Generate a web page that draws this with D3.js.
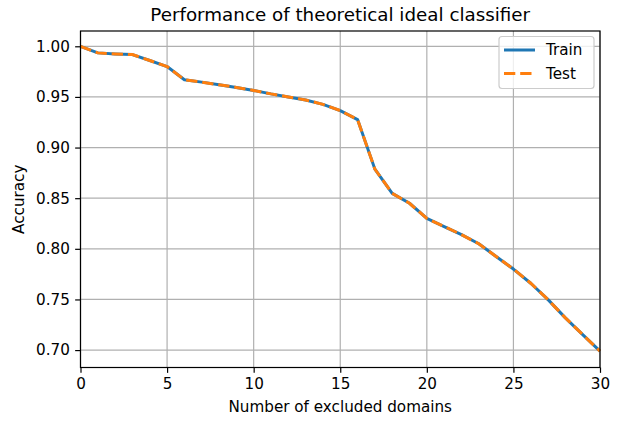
<!DOCTYPE html>
<html><head><meta charset="utf-8">
<script src="https://cdn.jsdelivr.net/npm/d3@7"></script>
<style>body{margin:0;background:#fff;} text{font-family:"DejaVu Sans",sans-serif;}</style>
</head><body>
<svg id="c" width="619" height="421"></svg>
<script>
const domains = d3.range(0, 31);
const trainAcc = [1.000,0.9935,0.9925,0.9918,0.986,0.980,0.967,0.9646,0.962,0.9594,0.9564,0.953,0.950,0.947,0.9426,0.9365,0.9276,0.8787,0.8547,0.845,0.830,0.822,0.8140,0.8050,0.7924,0.780,0.766,0.7498,0.7318,0.7153,0.699];
const testAcc  = [1.000,0.9935,0.9925,0.9918,0.986,0.980,0.967,0.9646,0.962,0.9594,0.9564,0.953,0.950,0.947,0.9426,0.9365,0.9276,0.8787,0.8547,0.845,0.830,0.822,0.8140,0.8050,0.7924,0.780,0.766,0.7498,0.7318,0.7153,0.699];
const xTicks = [0,5,10,15,20,25,30];
const yTicks = [0.70,0.75,0.80,0.85,0.90,0.95,1.00];
const seriesNames = ["Train","Test"];
const colors = ["#1f77b4","#ff7f0e"];

const L=80.5, R=600, T=31, B=367.5;
const FS=15.2, TK=5.35, LW=1.2;
const svg = d3.select("#c");
const x = d3.scaleLinear().domain([0,30]).range([L,R]);
const y = d3.scaleLinear().domain([0.6828,1.0151]).range([B,T]);

// grid
const g = svg.append("g");
g.selectAll(".gx").data(xTicks).join("line").attr("x1",d=>x(d)).attr("x2",d=>x(d)).attr("y1",T).attr("y2",B).attr("stroke","#b0b0b0").attr("stroke-width",LW);
g.selectAll(".gy").data(yTicks).join("line").attr("x1",L).attr("x2",R).attr("y1",d=>y(d)).attr("y2",d=>y(d)).attr("stroke","#b0b0b0").attr("stroke-width",LW);

const line = d3.line().x((d,i)=>x(domains[i])).y(d=>y(d));
svg.append("path").datum(trainAcc).attr("d",line).attr("fill","none").attr("stroke",colors[0]).attr("stroke-width",3).attr("stroke-linejoin","round");
svg.append("path").datum(testAcc).attr("d",line).attr("fill","none").attr("stroke",colors[1]).attr("stroke-width",3).attr("stroke-dasharray","11.3,4.9");

// axes
const xa = svg.append("g").attr("transform",`translate(0,${B})`).call(d3.axisBottom(x).tickValues(xTicks).tickFormat(d3.format("d")).tickSizeOuter(0).tickSize(TK).tickPadding(TK));
const ya = svg.append("g").attr("transform",`translate(${L},0)`).call(d3.axisLeft(y).tickValues(yTicks).tickFormat(d3.format(".2f")).tickSizeOuter(0).tickSize(TK).tickPadding(TK));
[xa,ya].forEach(a=>{a.select(".domain").remove();a.selectAll("line").attr("stroke","#000").attr("stroke-width",LW);a.selectAll("text").attr("font-size",FS).attr("fill","#000").style("font-family","DejaVu Sans");});
svg.append("rect").attr("x",L).attr("y",T).attr("width",R-L).attr("height",B-T).attr("fill","none").attr("stroke","#000").attr("stroke-width",LW);

svg.append("text").attr("x",(L+R)/2).attr("y",20.7).attr("text-anchor","middle").attr("font-size",18.3).text("Performance of theoretical ideal classifier");
svg.append("text").attr("x",(L+R)/2).attr("y",411.7).attr("text-anchor","middle").attr("font-size",FS).text("Number of excluded domains");
svg.append("text").attr("transform",`translate(23.5,${(T+B)/2}) rotate(-90)`).attr("text-anchor","middle").attr("font-size",FS).text("Accuracy");

// legend
const lg = svg.append("g");
lg.append("rect").attr("x",499).attr("y",36.5).attr("width",95).attr("height",52).attr("rx",3).attr("fill","#fff").attr("fill-opacity",0.8).attr("stroke","#cccccc").attr("stroke-width",1.2);
seriesNames.forEach((n,i)=>{
  const yy = 50 + i*23.5;
  lg.append("line").attr("x1",504).attr("x2",535).attr("y1",yy).attr("y2",yy).attr("stroke",colors[i]).attr("stroke-width",3).attr("stroke-dasharray",i?"11.3,4.9":null);
  lg.append("text").attr("x",546).attr("y",yy+5.3).attr("font-size",FS).text(n);
});
</script>
</body></html>
